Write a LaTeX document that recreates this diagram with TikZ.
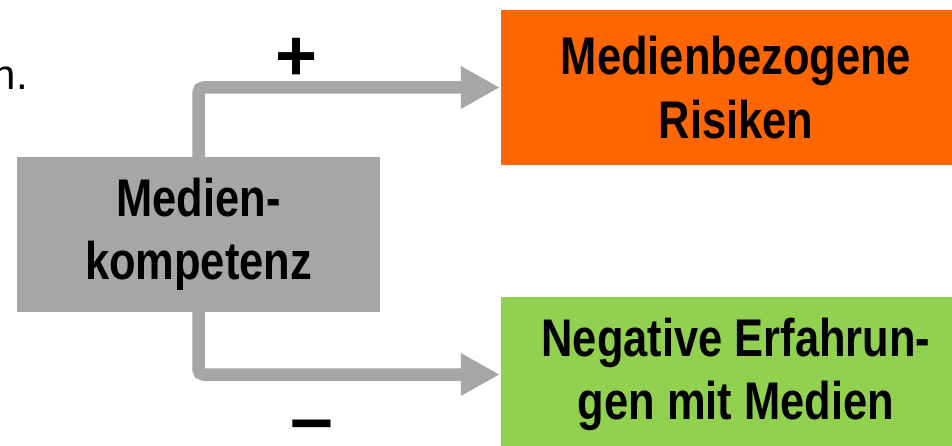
\documentclass[tikz,border=0pt]{standalone}
\usepackage{fontspec}
\setmainfont{Liberation Sans}
\newfontfamily\narrowsans[FakeStretch=0.82]{Liberation Sans}
\usetikzlibrary{arrows.meta}

\definecolor{boxgray}{HTML}{A6A6A6}
\definecolor{riskorange}{HTML}{FF6600}
\definecolor{expgreen}{HTML}{92D050}

\tikzset{
  box/.style={minimum height=155pt, inner sep=0pt, align=center,
    font=\narrowsans\bfseries\fontsize{53}{63.5}\selectfont},
  link/.style={draw=boxgray, line width=12.5pt, rounded corners=5pt,
    -{Triangle[length=39pt,width=40pt]}, shorten >=1pt},
  sign/.style={inner sep=0pt}
}

\begin{document}
\begin{tikzpicture}[x=1pt,y=-1pt]
  \clip (0,0) rectangle (952,446);
  \fill[white] (0,0) rectangle (952,446);

  % tail of the preceding sentence
  \node[anchor=base east, inner sep=0pt, font=\fontsize{42}{50}\selectfont] (tail) at (28,90) {n.};

  % boxes
  \node[box, fill=boxgray, minimum width=363pt] (komp) at (198.5,234.5) {Medien-\\kompetenz};
  \node[box, fill=riskorange, minimum width=470pt] (risk) at (736,87.5) {Medienbezogene\\Risiken};
  \node[box, fill=expgreen, minimum width=470pt] (exp) at (736,374.5) {Negative Erfahrun-\\gen mit Medien};

  % connectors
  \draw[link] (komp.north) |- (risk.west);
  \draw[link] (komp.south) |- (exp.west);

  % signs
  \node[sign, font=\bfseries\fontsize{72}{72}\selectfont] (plus) at (297,59) {+};
  \node[sign, anchor=base, font=\bfseries\fontsize{77}{77}\selectfont] (minus) at (311.5,444) {–};
\end{tikzpicture}
\end{document}
